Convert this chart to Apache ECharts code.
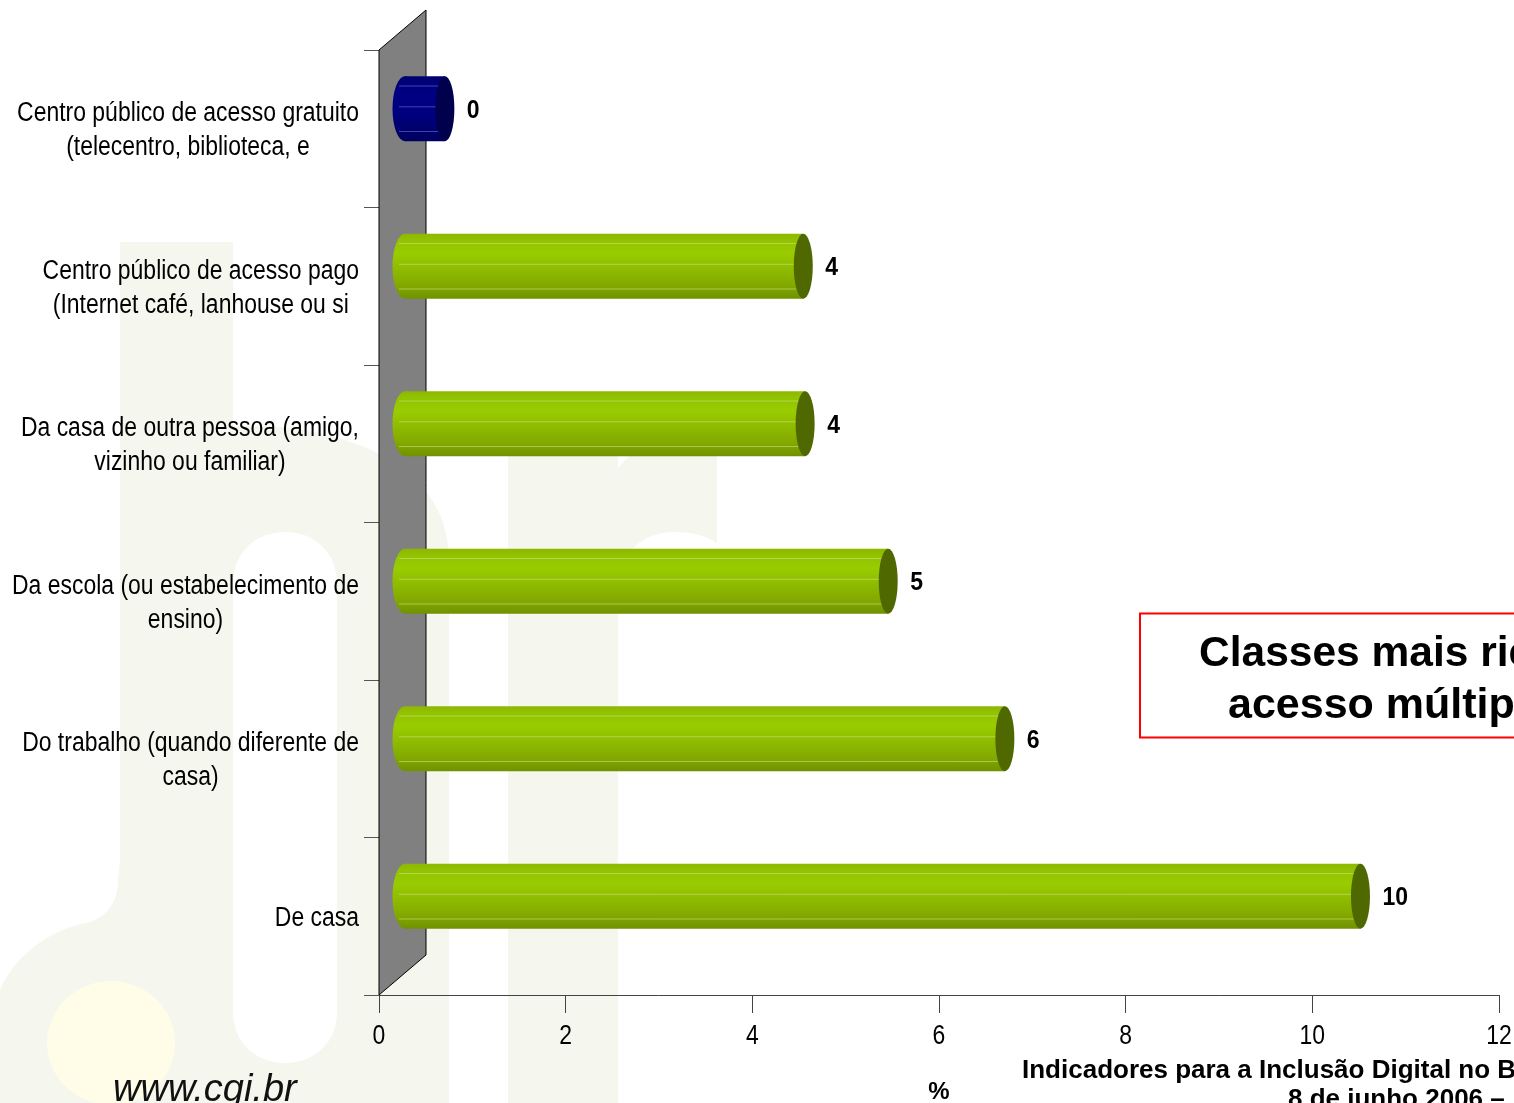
<!DOCTYPE html>
<html><head><meta charset="utf-8">
<style>html,body{margin:0;padding:0;background:#fff;overflow:hidden}#c{width:1514px;height:1103px}</style>
<script src="https://cdn.jsdelivr.net/npm/echarts@6/dist/echarts.min.js"></script>
</head><body><div id="c"></div>
<script>
const categories = [
  'Centro público de acesso gratuito\n(telecentro, biblioteca, e',
  'Centro público de acesso pago\n(Internet café, lanhouse ou si',
  'Da casa de outra pessoa (amigo,\nvizinho ou familiar)',
  'Da escola (ou estabelecimento de\nensino)',
  'Do trabalho (quando diferente de\ncasa)',
  'De casa'
];
const values = [0.47, 4.31, 4.33, 5.22, 6.47, 10.28];
const valueLabels = ['0', '4', '4', '5', '6', '10'];
const xTicks = [0, 2, 4, 6, 8, 10, 12];

const SANS = '"Liberation Sans",Arial,sans-serif';
const NARROW_SCALE = 0.85;
const TINT = '#f5f6ee';
const GREEN = {stops: [[0,'#8cb800'],[0.1,'#92c200'],[0.3,'#99cc00'],[0.55,'#8ebb00'],[0.8,'#82a800'],[1,'#6f9200']], cap:'#4f6900', line:'rgba(205,225,130,0.6)'};
const BLUE  = {stops: [[0,'#00006e'],[0.1,'#000078'],[0.3,'#000084'],[0.55,'#000080'],[0.8,'#00006e'],[1,'#000060']], cap:'#00004c', line:'rgba(90,90,190,0.75)'};

const measure = document.createElement('canvas').getContext('2d');
measure.font = '27px ' + SANS;
function blockWidth(t){ return Math.max.apply(null, t.split('\n').map(s => measure.measureText(s).width)); }
function grad(stops){
  return {type:'linear',x:0,y:0,x2:0,y2:1,colorStops:stops.map(s=>({offset:s[0],color:s[1]}))};
}
function ell(cx,cy,rx,ry,style){
  return {type:'path',shape:{pathData:`M${cx-rx} ${cy} A${rx} ${ry} 0 1 1 ${cx+rx} ${cy} A${rx} ${ry} 0 1 1 ${cx-rx} ${cy} Z`},style};
}
const watermark = [
  'M120 242 L233 242 L233 427 C300 420 449 445 449 560 L449 1103 L0 1103 L0 990 C15 955 50 930 86 923 C105 918 118 905 118 880 L120 860 Z',
  'M508 455 L618 455 L618 468 L630 455 L717 455 L717 543 C705 535 690 532 675 532 C640 532 620 555 618 585 L618 1103 L508 1103 Z'
];
const counter = 'M233 584 C233 550 258 532 285 532 C312 532 337 550 337 584 L337 1011 C337 1045 312 1063 285 1063 C258 1063 233 1045 233 1011 Z';

const chart = echarts.init(document.getElementById('c'), null, {renderer:'canvas'});
chart.setOption({
  animation:false,
  backgroundColor:'#fff',
  grid:{left:379,right:15,top:50,bottom:108,containLabel:false,outerBoundsMode:'none'},
  xAxis:{type:'value',min:xTicks[0],max:xTicks[xTicks.length-1],interval:2,
    splitLine:{show:false},
    axisLine:{show:true,onZero:false,lineStyle:{color:'#444',width:1}},
    axisTick:{show:true,length:18,lineStyle:{color:'#444',width:1}},
    axisLabel:{show:false},
    name:'%',nameLocation:'middle',nameGap:85,
    nameTextStyle:{fontFamily:SANS,fontWeight:'bold',fontSize:24,color:'#000'}
  },
  yAxis:{type:'category',inverse:true,data:categories,
    axisLine:{show:true,onZero:false,lineStyle:{color:'#000',width:1}},
    axisTick:{show:true,length:15,lineStyle:{color:'#555',width:1}},
    axisLabel:{show:false},splitLine:{show:false}
  },
  graphic:[
    {type:'text',silent:true,z:20,style:{text:'www.cgi.br',x:113,y:1090,textVerticalAlign:'middle',font:'italic 38px '+SANS,fill:'#111'}},
    {type:'rect',silent:true,z:20,shape:{x:1140,y:613.5,width:500,height:124},style:{fill:'#fff',stroke:'#f00',lineWidth:2}},
    {type:'text',silent:true,z:21,style:{text:'Classes mais ricas têm',x:1199,y:654,textVerticalAlign:'middle',font:'bold 42.5px '+SANS,fill:'#000'}},
    {type:'text',silent:true,z:21,style:{text:'acesso múltiplo',x:1228,y:706,textVerticalAlign:'middle',font:'bold 43px '+SANS,fill:'#000'}},
    {type:'text',silent:true,z:21,style:{text:'Indicadores para a Inclusão Digital no Brasil',x:1022,y:1071,textVerticalAlign:'middle',font:'bold 26px '+SANS,fill:'#000'}},
    {type:'text',silent:true,z:21,style:{text:'8 de junho 2006 –',x:1288,y:1100,textVerticalAlign:'middle',font:'bold 26px '+SANS,fill:'#000'}}
  ],
  series:[
    {type:'custom',name:'watermark',coordinateSystem:'none',z:-5,silent:true,clip:false,
     data:[[0]],
     renderItem(){
       return {type:'group',children:[
         ...watermark.map(d=>({type:'path',shape:{pathData:d},style:{fill:TINT}})),
         {type:'path',shape:{pathData:counter},style:{fill:'#fff'}},
         ell(111,1043,64,62,{fill:'#fffde8'})
       ]};
     }},
    {type:'custom',name:'wall',coordinateSystem:'cartesian2d',z:1,silent:true,clip:false,
     data:[[0,0]],encode:{x:0,y:1},
     renderItem(p,api){
       const h=p.coordSys.height, top=p.coordSys.y, x=p.coordSys.x;
       const dx=47, dy=40;
       return {type:'polygon',shape:{points:[[x,top],[x+dx,top-dy],[x+dx,top+h-dy],[x,top+h]]},
         style:{fill:'#808080',stroke:'#000',lineWidth:1}};
     }},
    {type:'custom',name:'tickLabels',coordinateSystem:'cartesian2d',z:3,silent:true,clip:false,
     data:xTicks.map(t=>[t,5]),encode:{x:0,y:1},
     renderItem(p,api){
       const t=api.value(0), px=api.coord([t,0])[0], py=p.coordSys.y+p.coordSys.height;
       return {type:'text',x:px,y:py+42,scaleX:NARROW_SCALE,style:{text:String(t),x:0,y:0,textAlign:'center',textVerticalAlign:'middle',
         font:'27px '+SANS,fill:'#000'}};
     }},
    {type:'custom',name:'labels',coordinateSystem:'cartesian2d',z:3,silent:true,clip:false,
     data:categories.map((c,i)=>[0,i]),encode:{x:0,y:1},
     renderItem(p,api){
       const i=api.value(1), t=categories[i], pt=api.coord([0,i]);
       const w=blockWidth(t)*NARROW_SCALE;
       return {type:'text',x:pt[0]-20-w/2,y:pt[1]+2,scaleX:NARROW_SCALE,style:{text:t,x:0,y:0,textAlign:'center',textVerticalAlign:'middle',
         font:'27px '+SANS,lineHeight:34,fill:'#000'}};
     }},
    {type:'custom',name:'Acesso',coordinateSystem:'cartesian2d',z:5,silent:true,clip:false,
     data:values.map((v,i)=>[v,i]),encode:{x:0,y:1},
     renderItem(p,api){
       const v=api.value(0), i=api.value(1);
       const base=api.coord([0,i]), end=api.coord([v,i]);
       const band=api.size([0,1])[1], H=band*0.4125, rY=H/2, cy=base[1]-20;
       const x0=base[0]+26, x1=end[0]+22;
       const c=i===0?BLUE:GREEN, fill=grad(c.stops);
       const kids=[
         ell(x0,cy,12.5,rY,{fill:fill}),
         {type:'rect',shape:{x:x0,y:cy-rY,width:x1-x0,height:H},style:{fill:fill}}
       ];
       [0.15,0.47,0.85].forEach(f=>{
         kids.push({type:'line',shape:{x1:x0-6,y1:cy-rY+H*f,x2:x1-4,y2:cy-rY+H*f},style:{stroke:c.line,lineWidth:1}});
       });
       kids.push(ell(x1,cy,9.5,rY,{fill:c.cap}));
       kids.push({type:'text',x:x1+22,y:cy+2,scaleX:0.92,style:{text:valueLabels[i],x:0,y:0,textVerticalAlign:'middle',font:'bold 25px '+SANS,fill:'#000'}});
       return {type:'group',children:kids};
     }}
  ]
});
</script></body></html>
